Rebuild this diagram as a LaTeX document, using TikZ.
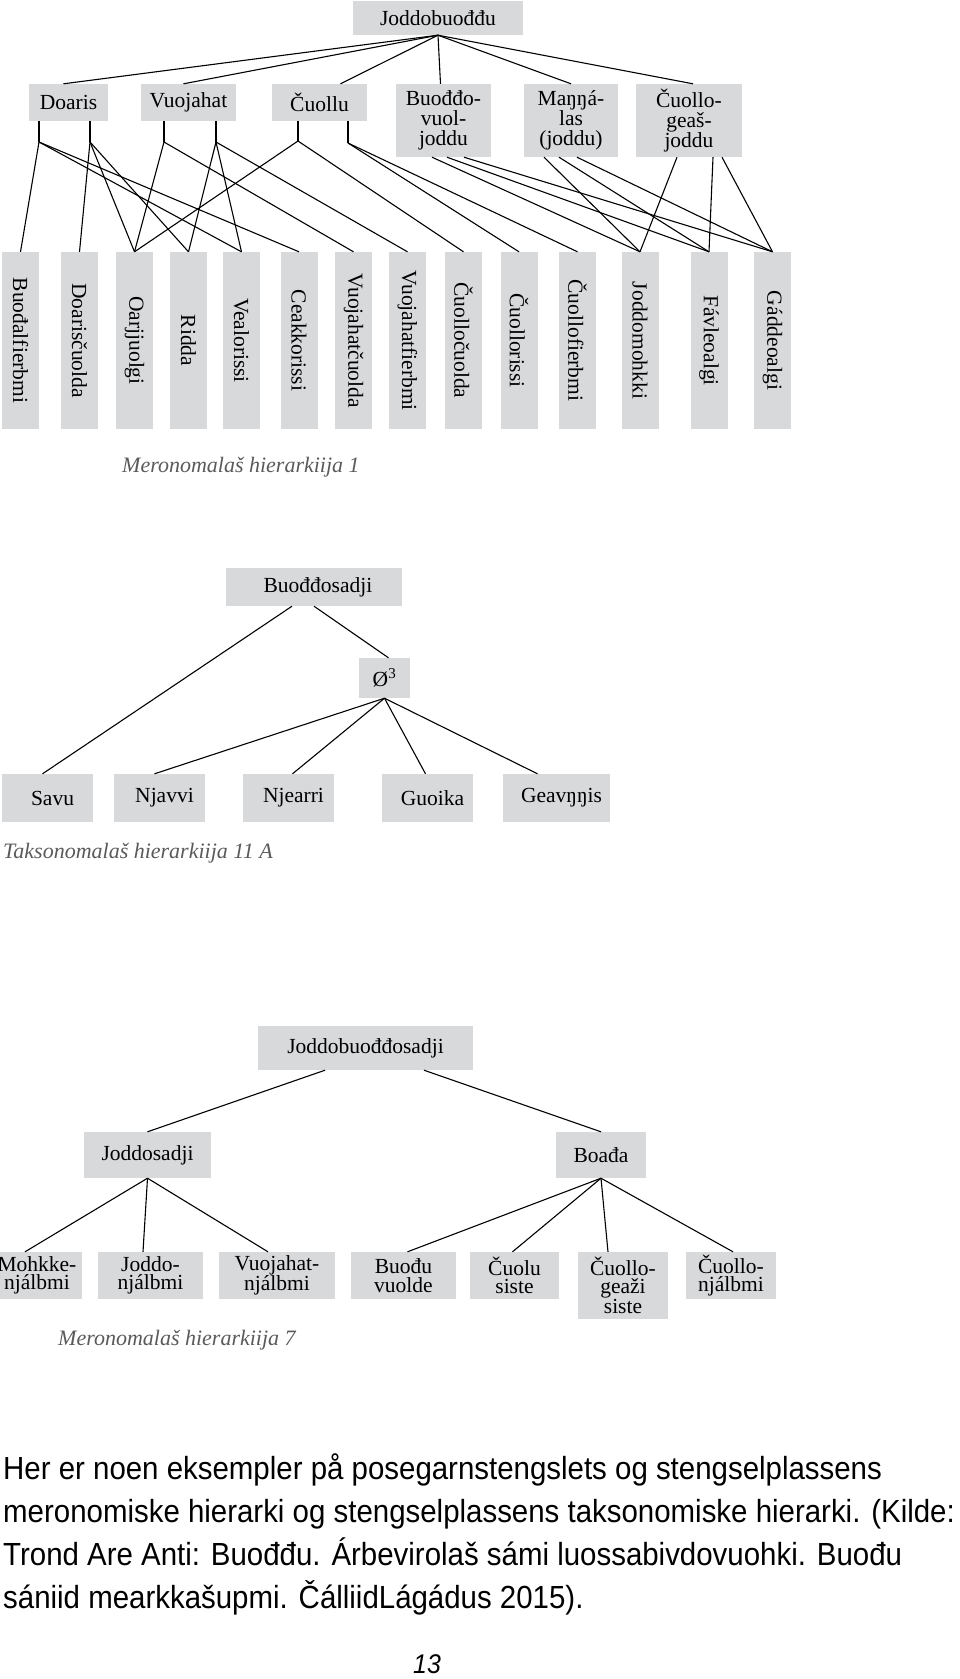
\documentclass[tikz,border=0pt]{standalone}
\usepackage{fontspec}
\setmainfont{Liberation Serif}
\newfontfamily\notefont[FakeStretch=0.92]{Liberation Sans}
\definecolor{boxgray}{RGB}{215,217,219}
\definecolor{capgray}{RGB}{90,90,90}
\tikzset{
  box/.style={fill=boxgray, inner sep=0pt, align=center, font=\fontsize{21.5}{20}\selectfont},
  vbox/.style={box, rotate=-90, minimum width=177pt, minimum height=37pt},
  caption/.style={font=\fontsize{22}{26}\selectfont\itshape, text=capgray, anchor=base west, inner sep=0pt},
  note/.style={font=\notefont\fontsize{32}{43}\selectfont, anchor=base west, inner sep=0pt},
  link/.style={line width=1.1pt},
}
\begin{document}
\begin{tikzpicture}[x=1pt,y=-1pt]
  \useasboundingbox (0,0) rectangle (960,1679);
  \begin{scope}
    \node[box, minimum width=170pt, minimum height=34pt] (top) at (438,18) {Joddobuođđu};
    \node[box, minimum width=79pt, minimum height=37pt] (doaris) at (68.5,102.5) {Doaris};
    \node[box, minimum width=95pt, minimum height=37pt] (vuojahat) at (188.5,102.5) {Vuojahat};
    \node[box, minimum width=95pt, minimum height=37pt] (cuollu) at (319.5,102.5) {Čuollu};
    \node[box, minimum width=95pt, minimum height=73pt] (buoddo) at (443.5,120.5) {Buođđo-\\vuol-\\joddu};
    \node[box, minimum width=94pt, minimum height=73pt] (mannalas) at (571,120.5) {Maŋŋá-\\las\\(joddu)};
    \node[box, minimum width=106pt, minimum height=73pt] (geasjoddu) at (689,120.5) {Čuollo-\\geaš-\\joddu};
    \foreach \name/\x/\txt in {b1/20.5/Buođalfierbmi, b2/79.5/Doarisčuolda, b3/134.5/Oarjjuolgi,
        b4/188.5/Ridda, b5/241.5/Vealorissi, b6/299/Ceakkorissi, b7/353.5/Vuojahatčuolda,
        b8/407.5/Vuojahatfierbmi, b9/463.5/Čuolločuolda, b10/519/Čuollorissi,
        b11/577.5/Čuollofierbmi, b12/640/Joddomohkki, b13/709/Fávleoalgi, b14/772.5/Gáddeoalgi}
      \node[vbox] (\name) at (\x,340.5) {\txt};
    \foreach \n/\dx in {doaris/-5, vuojahat/-5, cuollu/21, buoddo/-3, mannalas/0, geasjoddu/4}
      \draw[link] (top.south) -- ([xshift=\dx pt]\n.north);
    \coordinate (d1) at (39,142);
    \coordinate (d2) at (90,142);
    \coordinate (v1) at (164,142);
    \coordinate (v2) at (216,142);
    \coordinate (c1) at (298,141);
    \coordinate (c2) at (348,143);
    \foreach \s/\n in {d1/doaris, d2/doaris, v1/vuojahat, v2/vuojahat, c1/cuollu, c2/cuollu}
      \draw[link] (\s |- \n.south) -- (\s);
    \foreach \s/\t in {d1/b1, d1/b5, d1/b6, d2/b2, d2/b3, d2/b4, v1/b3, v1/b7,
        v2/b4, v2/b5, v2/b8, c1/b3, c1/b9, c2/b10, c2/b11}
      \draw[link] (\s) -- (\t.west);
    \foreach \n/\dx/\t in {buoddo/-11.5/b12, buoddo/3.5/b13, buoddo/20.5/b14,
        mannalas/-27/b12, mannalas/-12/b13, mannalas/6/b14,
        geasjoddu/-12/b12, geasjoddu/24/b13, geasjoddu/33/b14}
      \draw[link] ([xshift=\dx pt]\n.south) -- (\t.west);
    \node[caption] (cap1) at (122,472) {Meronomalaš hierarkiija 1};
  \end{scope}
  \begin{scope}
    \node[box, minimum width=176pt, minimum height=38pt] (bsadji) at (314,587) {\hspace*{8pt}Buođđosadji};
    \node[box, minimum width=51pt, minimum height=40pt] (oe) at (384.5,678) {Ø\textsuperscript{3}};
    \foreach \name/\x/\w/\txt in {savu/47.5/91/Savu, njavvi/159.5/91/Njavvi, njearri/288.5/91/Njearri,
        guoika/427.5/91/Guoika, geavnnis/556.5/107/Geavŋŋis}
      \node[box, minimum width=\w pt, minimum height=48pt] (\name) at (\x,798) {\hspace*{10pt}\txt};
    \draw[link] ([xshift=-22pt]bsadji.south) -- ([xshift=-5pt]savu.north);
    \draw[link] (bsadji.south) -- ([xshift=4pt]oe.north);
    \foreach \t/\dx in {njavvi/-5, njearri/4, guoika/-2, geavnnis/-19}
      \draw[link] (oe.south) -- ([xshift=\dx pt]\t.north);
    \node[caption] (cap2) at (3,858) {Taksonomalaš hierarkiija 11 A};
  \end{scope}
  \begin{scope}[box/.append style={font=\fontsize{21.5}{18.5}\selectfont}]
    \node[box, minimum width=215pt, minimum height=44pt] (jbs) at (365.5,1048) {Joddobuođđosadji};
    \node[box, minimum width=127pt, minimum height=46pt] (js) at (147.5,1155) {Joddosadji};
    \node[box, minimum width=90pt, minimum height=46pt] (boada) at (601,1155) {Boađa};
    \node[box, minimum width=90pt, minimum height=47pt] (mohkke) at (37,1275.5) {Mohkke-\\njálbmi};
    \node[box, minimum width=105pt, minimum height=47pt] (joddonj) at (150.5,1275.5) {Joddo-\\njálbmi};
    \node[box, minimum width=116pt, minimum height=47pt] (vuojnj) at (277,1275.5) {Vuojahat-\\njálbmi};
    \node[box, minimum width=105pt, minimum height=47pt] (buoduv) at (403.5,1275.5) {Buođu\\vuolde};
    \node[box, minimum width=89pt, minimum height=47pt] (cuolus) at (514.5,1275.5) {Čuolu\\siste};
    \node[box, minimum width=90pt, minimum height=67pt] (cuollog) at (623,1285.5) {Čuollo-\\geaži\\siste};
    \node[box, minimum width=90pt, minimum height=47pt] (cuollonj) at (731,1275.5) {Čuollo-\\njálbmi};
    \draw[link] ([xshift=-40.5pt]jbs.south) -- (js.north);
    \draw[link] ([xshift=58.5pt]jbs.south) -- (boada.north);
    \foreach \t/\dx in {mohkke/-12, joddonj/-7.5, vuojnj/-9}
      \draw[link] (js.south) -- ([xshift=\dx pt]\t.north);
    \foreach \t/\dx in {buoduv/4, cuolus/-2, cuollog/-15, cuollonj/2}
      \draw[link] (boada.south) -- ([xshift=\dx pt]\t.north);
    \node[caption] (cap3) at (58,1345) {Meronomalaš hierarkiija 7};
  \end{scope}
  \node[note] (note1) at (3,1479) {Her er noen eksempler på posegarnstengslets og stengselplassens};
  \node[note] (note2) at (3,1522) {meronomiske hierarki og stengselplassens taksonomiske hierarki. (Kilde:};
  \node[note] (note3) at (3,1565) {Trond Are Anti: Buođđu. Árbevirolaš sámi luossabivdovuohki. Buođu};
  \node[note] (note4) at (3,1608) {sániid mearkkašupmi. ČálliidLágádus 2015).};
  \node[font=\notefont\itshape\fontsize{27}{30}\selectfont, anchor=base, inner sep=0pt] (page) at (427,1673) {13};
\end{tikzpicture}
\end{document}
